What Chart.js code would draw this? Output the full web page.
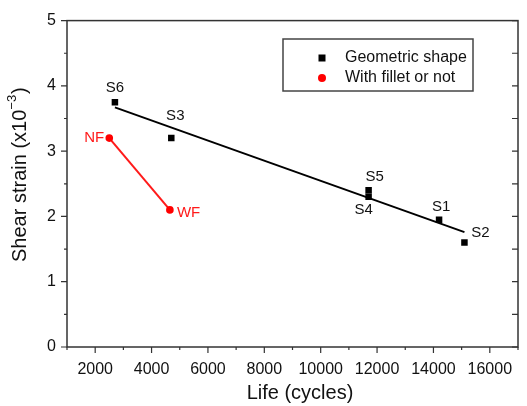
<!DOCTYPE html>
<html>
<head>
<meta charset="utf-8">
<script src="https://cdn.jsdelivr.net/npm/chart.js@4.4.1/dist/chart.umd.min.js"></script>
<style>body{margin:0;background:#fff}</style>
</head>
<body>
<canvas id="strainChart" width="527" height="406"></canvas>
<script>
// data
var geoNames = ['S6', 'S3', 'S5', 'S4', 'S1', 'S2'];
var geoLife = [2700, 4700, 11700, 11700, 14200, 15100];
var geoStrain = [3.75, 3.2, 2.4, 2.3, 1.95, 1.6];

var filletNames = ['NF', 'WF'];
var filletLife = [2500, 4650];
var filletStrain = [3.2, 2.1];

// fitted line for geometric shape
var fitLife = [2700, 15100];
var fitStrain = [3.67, 1.76];

var xMajorTicks = [2000, 4000, 6000, 8000, 10000, 12000, 14000, 16000];
var yMajorTicks = [0, 1, 2, 3, 4, 5];

var FONT = '"Liberation Sans", Arial, sans-serif';

function toPoints(xs, ys) {
    var out = [];
    for (var i = 0; i < xs.length; i++) out.push({x: xs[i], y: ys[i]});
    return out;
}

// label offsets in px from each point (dx, dy, align)
var labelOffsets = {
    S6: [0, -14, 'center'], S3: [4, -22, 'center'], S5: [6, -13, 'center'],
    S4: [-5, 13, 'center'], S1: [2, -13, 'center'], S2: [16, -10, 'center'],
    NF: [-5, 0, 'right'], WF: [7, 3, 'left']
};

var framePlugin = {
    id: 'frame',
    afterDraw: function (chart) {
        var ctx = chart.ctx, a = chart.chartArea;
        var xs = chart.scales.x, ys = chart.scales.y;
        ctx.save();
        ctx.strokeStyle = '#333';
        ctx.lineWidth = 1.5;
        ctx.strokeRect(a.left, a.top, a.right - a.left, a.bottom - a.top);

        // ticks
        ctx.lineWidth = 1.2;
        ctx.beginPath();
        for (var v = 1000; v <= 17000; v += 1000) {
            var px = xs.getPixelForValue(v);
            var len = (v % 2000 === 0) ? 6 : 3;
            ctx.moveTo(px, a.bottom);
            ctx.lineTo(px, a.bottom + len);
        }
        for (var s = 0; s <= 5; s += 0.5) {
            var py = ys.getPixelForValue(s);
            var l2 = (s % 1 === 0) ? 6 : 3;
            ctx.moveTo(a.left, py);
            ctx.lineTo(a.left - l2, py);
            ctx.moveTo(a.right, py);
            ctx.lineTo(a.right - 6, py);
        }
        ctx.stroke();

        // point labels
        ctx.font = '15px ' + FONT;
        ctx.textBaseline = 'middle';
        function drawLabels(names, lx, ly, color) {
            ctx.fillStyle = color;
            for (var i = 0; i < names.length; i++) {
                var o = labelOffsets[names[i]];
                ctx.textAlign = o[2];
                ctx.fillText(names[i], xs.getPixelForValue(lx[i]) + o[0], ys.getPixelForValue(ly[i]) + o[1]);
            }
        }
        drawLabels(geoNames, geoLife, geoStrain, '#111');
        drawLabels(filletNames, filletLife, filletStrain, '#ff1a1a');

        // legend
        ctx.strokeStyle = '#444';
        ctx.lineWidth = 1.5;
        ctx.strokeRect(283, 39, 190, 52);
        ctx.fillStyle = '#000';
        ctx.fillRect(318.5, 54.5, 7, 7);
        ctx.fillStyle = '#ff0000';
        ctx.beginPath();
        ctx.arc(322, 78, 4, 0, Math.PI * 2);
        ctx.fill();
        ctx.fillStyle = '#111';
        ctx.font = '16px ' + FONT;
        ctx.textAlign = 'left';
        ctx.fillText(chart.data.datasets[1].label, 345, 58);
        ctx.fillText(chart.data.datasets[2].label, 345, 78);

        // axis titles
        ctx.font = '20px ' + FONT;
        ctx.textAlign = 'center';
        ctx.fillText('Life (cycles)', 300, 393);

        ctx.translate(20, 262);
        ctx.rotate(-Math.PI / 2);
        ctx.textAlign = 'left';
        var main = 'Shear strain (x10';
        ctx.fillText(main, 0, 0);
        var w = ctx.measureText(main).width;
        ctx.font = '13px ' + FONT;
        ctx.fillText('\u22123', w, -8);
        var w2 = ctx.measureText('\u22123').width;
        ctx.font = '20px ' + FONT;
        ctx.fillText(')', w + w2 + 1, 0);
        ctx.restore();
    }
};

var ctx = document.getElementById('strainChart').getContext('2d');
var chart = new Chart(ctx, {
    type: 'scatter',
    data: {
        datasets: [{
            label: 'fit',
            type: 'line',
            data: toPoints(fitLife, fitStrain),
            borderColor: '#000',
            borderWidth: 2,
            pointRadius: 0,
            fill: false
        }, {
            label: 'Geometric shape',
            data: toPoints(geoLife, geoStrain),
            pointStyle: 'rect',
            pointRadius: 4.6,
            backgroundColor: '#000',
            borderColor: '#000',
            borderWidth: 0
        }, {
            label: 'With fillet or not',
            type: 'line',
            data: toPoints(filletLife, filletStrain),
            borderColor: '#ff1a1a',
            borderWidth: 2,
            pointRadius: 3.8,
            pointBackgroundColor: '#ff0000',
            pointBorderWidth: 0,
            fill: false
        }]
    },
    options: {
        responsive: false,
        animation: false,
        layout: {padding: {left: 0, right: 9, top: 15, bottom: 0}},
        plugins: {legend: {display: false}, tooltip: {enabled: false}},
        scales: {
            x: {
                type: 'linear',
                min: 1000,
                max: 17000,
                afterBuildTicks: function (scale) {
                    scale.ticks = xMajorTicks.map(function (v) { return {value: v}; });
                },
                afterFit: function (scale) { scale.height = 59; },
                grid: {display: false, drawTicks: false},
                border: {display: false},
                ticks: {
                    padding: 13,
                    color: '#111',
                    font: {family: FONT, size: 16},
                    maxRotation: 0,
                    autoSkip: false,
                    callback: function (v) { return String(v); }
                }
            },
            y: {
                min: 0,
                max: 5,
                afterBuildTicks: function (scale) {
                    scale.ticks = yMajorTicks.map(function (v) { return {value: v}; });
                },
                afterFit: function (scale) { scale.width = 67; },
                grid: {display: false, drawTicks: false},
                border: {display: false},
                ticks: {
                    padding: 11,
                    color: '#111',
                    font: {family: FONT, size: 16}
                }
            }
        }
    },
    plugins: [framePlugin]
});
</script>
</body>
</html>
